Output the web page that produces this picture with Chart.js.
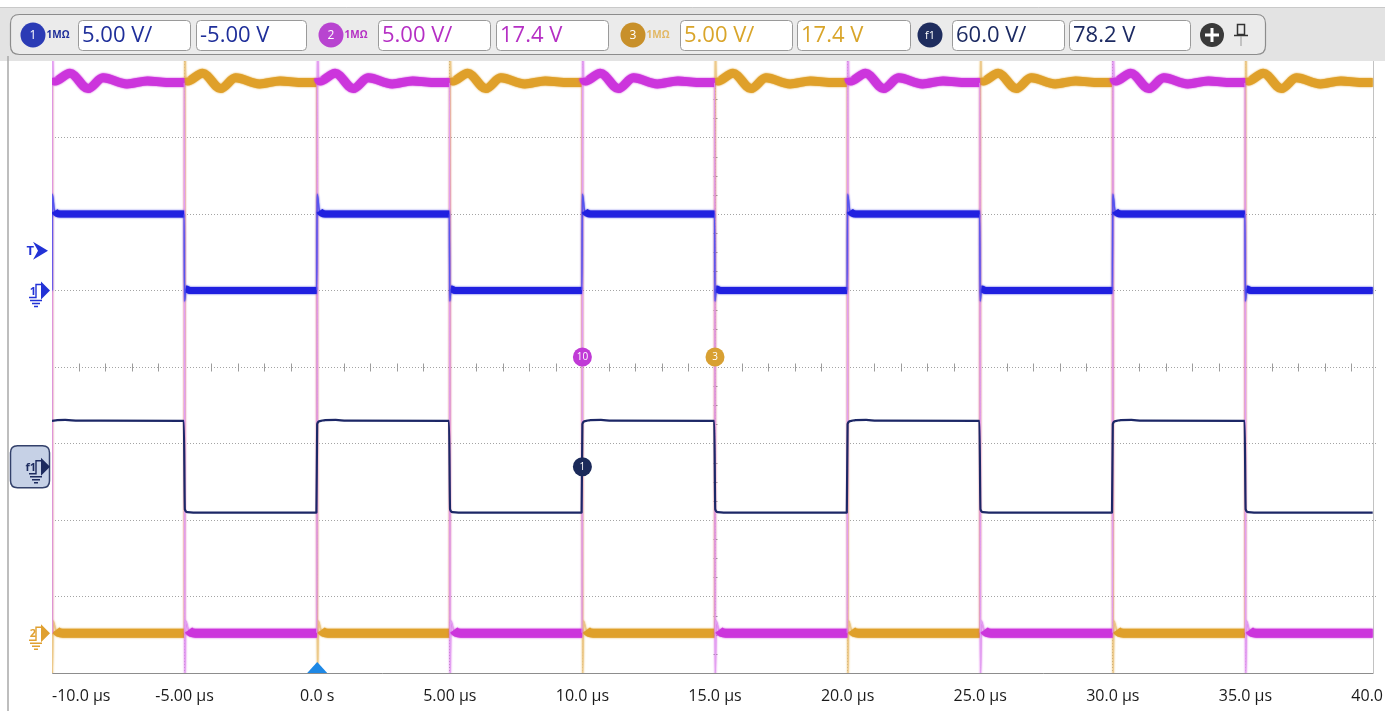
<!DOCTYPE html>
<html><head><meta charset="utf-8">
<script src="https://cdn.jsdelivr.net/npm/chart.js@4.4.0/dist/chart.umd.min.js"></script>
<style>html,body{margin:0;padding:0;background:#fff;overflow:hidden}</style>
</head><body><canvas id="c" width="1385" height="711"></canvas>
<script>
// ---------- data ----------
const timeTicks = [-10, -5, 0, 5, 10, 15, 20, 25, 30, 35, 40, 45];
const timeLabels = ["-10.0 µs", "-5.00 µs", "0.0 s", "5.00 µs", "10.0 µs", "15.0 µs", "20.0 µs", "25.0 µs", "30.0 µs", "35.0 µs", "40.0 µs", ""];
const channelNames = ["1", "2", "3", "f1"];
const voltsPerDiv = [5, 5, 5, 60];
const offsetVolts = [-5, 17.4, 17.4, 78.2];
const triggerLevel = 2.6; // V on channel 1

// [time µs, volts]
const ch1 = [[-10,0],[-9.99,6.3],[-9.9,5.2],[-9.7,5.0],[-5.02,5.0],[-5.0,-0.7],[-4.95,0.1],[-4.8,0],[-0.02,0],
 [0,6.3],[0.09,5.2],[0.3,5],[4.98,5],[5.0,-0.7],[5.05,0.1],[5.2,0],[9.98,0],
 [10,6.3],[10.09,5.2],[10.3,5],[14.98,5],[15,-0.7],[15.05,0.1],[15.2,0],[19.98,0],
 [20,6.3],[20.09,5.2],[20.3,5],[24.98,5],[25,-0.7],[25.05,0.1],[25.2,0],[29.98,0],
 [30,6.3],[30.09,5.2],[30.3,5],[34.98,5],[35,-0.7],[35.05,0.1],[35.2,0],[39.8,0]];

const ch2 = [[-10.0,0],[-9.99,38.5],[-9.96,36.3],[-9.89,36.1],[-9.32,36.6],[-8.64,35.6],[-8.08,36.3],[-7.17,35.9],[-6.4,36.1],[-5.7,36.0],[-5.03,36.0],
 [-5.01,36.0],[-4.99,-3.0],[-4.96,0.8],[-4.85,0.2],[-4.6,0.0],[-0.02,0.0],
 [-0.01,0],[0.01,38.5],[0.04,36.3],[0.11,36.1],[0.68,36.6],[1.36,35.6],[1.92,36.3],[2.83,35.9],[3.6,36.1],[4.3,36.0],[4.97,36.0],
 [4.99,36.0],[5.01,-3.0],[5.04,0.8],[5.15,0.2],[5.4,0.0],[9.98,0.0],
 [9.99,0],[10.01,38.5],[10.04,36.3],[10.11,36.1],[10.68,36.6],[11.36,35.6],[11.92,36.3],[12.83,35.9],[13.6,36.1],[14.3,36.0],[14.97,36.0],
 [14.99,36],[15.01,-3],[15.04,0.8],[15.15,0.2],[15.4,0],[19.98,0],
 [19.99,0],[20.01,38.5],[20.04,36.3],[20.11,36.1],[20.68,36.6],[21.36,35.6],[21.92,36.3],[22.83,35.9],[23.6,36.1],[24.3,36.0],[24.97,36.0],
 [24.99,36],[25.01,-3],[25.04,0.8],[25.15,0.2],[25.4,0],[29.98,0],
 [29.99,0],[30.01,38.5],[30.04,36.3],[30.11,36.1],[30.68,36.6],[31.36,35.6],[31.92,36.3],[32.83,35.9],[33.6,36.1],[34.3,36.0],[34.97,36.0],
 [34.99,36],[35.01,-3],[35.04,0.8],[35.15,0.2],[35.4,0],[39.8,0]];

const ch3 = [[-10.0,36.0],[-9.99,-3],[-9.96,0.8],[-9.85,0.2],[-9.6,0],[-5.02,0],
 [-5.01,0],[-4.99,38.5],[-4.96,36.3],[-4.89,36.1],[-4.32,36.6],[-3.64,35.6],[-3.08,36.3],[-2.17,35.9],[-1.4,36.1],[-0.7,36.0],[-0.03,36.0],
 [-0.01,36],[0.01,-3],[0.04,0.8],[0.15,0.2],[0.4,0],[4.98,0],
 [4.99,0],[5.01,38.5],[5.04,36.3],[5.11,36.1],[5.68,36.6],[6.36,35.6],[6.92,36.3],[7.83,35.9],[8.6,36.1],[9.3,36],[9.97,36],
 [9.99,36],[10.01,-3],[10.04,0.8],[10.15,0.2],[10.4,0],[14.98,0],
 [14.99,0],[15.01,38.5],[15.04,36.3],[15.11,36.1],[15.68,36.6],[16.36,35.6],[16.92,36.3],[17.83,35.9],[18.6,36.1],[19.3,36],[19.97,36],
 [19.99,36],[20.01,-3],[20.04,0.8],[20.15,0.2],[20.4,0],[24.98,0],
 [24.99,0],[25.01,38.5],[25.04,36.3],[25.11,36.1],[25.68,36.6],[26.36,35.6],[26.92,36.3],[27.83,35.9],[28.6,36.1],[29.3,36],[29.97,36],
 [29.99,36],[30.01,-3],[30.04,0.8],[30.15,0.2],[30.4,0],[34.98,0],
 [34.99,0],[35.01,38.5],[35.04,36.3],[35.11,36.1],[35.68,36.6],[36.36,35.6],[36.92,36.3],[37.83,35.9],[38.6,36.1],[39.3,36],[39.8,36]];

const f1 = [[-10,36],[-9.8,36.5],[-9.5,36.7],[-9.0,36.1],[-5.03,36],[-4.99,-33.5],[-4.9,-35.6],[-4.6,-36],[-0.03,-36],
 [0.0,33.5],[0.1,35.8],[0.3,36.6],[0.7,36.7],[1.1,36.1],[4.97,36],[5.01,-33.5],[5.1,-35.6],[5.4,-36],[9.97,-36],
 [10,33.5],[10.1,35.8],[10.3,36.6],[10.7,36.7],[11.1,36.1],[14.97,36],[15.01,-33.5],[15.1,-35.6],[15.4,-36],[19.97,-36],
 [20,33.5],[20.1,35.8],[20.3,36.6],[20.7,36.7],[21.1,36.1],[24.97,36],[25.01,-33.5],[25.1,-35.6],[25.4,-36],[29.97,-36],
 [30,33.5],[30.1,35.8],[30.3,36.6],[30.7,36.7],[31.1,36.1],[34.97,36],[35.01,-33.5],[35.1,-35.6],[35.4,-36],[39.8,-36]];

// ---------- styling ----------
const bandColors = ['#2020e0', '#cc35dc', '#dfa02a', '#1c2766'];
const edgeColors = ['#5555f0', '#e2a0f2', '#ecc98a', '#1c2766'];
const textColors = ['#1f2f9a', '#b52fc4', '#d9a52a', '#1c2a62'];
const badgeColors = ['#2b3bb5', '#b844d0', '#c8902a', '#1f2d5e'];
const DIVS = 4;

Chart.defaults.font.family = "'Open Sans', 'DejaVu Sans', sans-serif";

function steep(c) {
  const dx = Math.abs(c.p1.x - c.p0.x), dy = Math.abs(c.p1.y - c.p0.y);
  return dy > 8 && dy > 3 * dx;
}
function trace(points, axis, idx, band, edge, fuzzy) {
  return {
    data: points.map(p => ({x: p[0], y: p[1]})),
    yAxisID: axis, borderColor: bandColors[idx], borderWidth: band,
    pointRadius: 0, clip: 0, borderJoinStyle: 'round', borderCapStyle: 'butt',
    cubicInterpolationMode: 'monotone',
    fuzzy: fuzzy,
    segment: {
      borderWidth: c => steep(c) ? edge : band,
      borderColor: c => steep(c) ? edgeColors[idx] : bandColors[idx]
    }
  };
}
function chAxis(i) {
  return {type: 'linear', display: false,
    min: offsetVolts[i] - DIVS * voltsPerDiv[i], max: offsetVolts[i] + DIVS * voltsPerDiv[i]};
}
function rr(ctx, x, y, w, h, r) {
  ctx.beginPath();
  ctx.moveTo(x + r, y); ctx.lineTo(x + w - r, y); ctx.quadraticCurveTo(x + w, y, x + w, y + r);
  ctx.lineTo(x + w, y + h - r); ctx.quadraticCurveTo(x + w, y + h, x + w - r, y + h);
  ctx.lineTo(x + r, y + h); ctx.quadraticCurveTo(x, y + h, x, y + h - r);
  ctx.lineTo(x, y + r); ctx.quadraticCurveTo(x, y, x + r, y); ctx.closePath();
}
function badge(ctx, x, y, r, fill, label, fs) {
  ctx.beginPath(); ctx.arc(x, y, r, 0, Math.PI * 2); ctx.fillStyle = fill; ctx.fill();
  ctx.fillStyle = '#fff'; ctx.font = `${fs}px 'Open Sans', sans-serif`;
  ctx.textAlign = 'center'; ctx.textBaseline = 'middle'; ctx.fillText(label, x, y + 0.5);
}
function groundMarker(ctx, x, y, color, label) {
  ctx.fillStyle = color;
  ctx.beginPath(); ctx.moveTo(x - 8, y - 9); ctx.lineTo(x + 1, y); ctx.lineTo(x - 8, y + 9); ctx.closePath(); ctx.fill();
  ctx.strokeStyle = color; ctx.lineWidth = 1.4;
  ctx.beginPath(); ctx.moveTo(x - 20, y + 7); ctx.lineTo(x - 13, y + 7); ctx.lineTo(x - 13, y - 6); ctx.lineTo(x - 8, y - 6); ctx.stroke();
  ctx.beginPath();
  ctx.moveTo(x - 19, y + 10); ctx.lineTo(x - 7, y + 10);
  ctx.moveTo(x - 17, y + 13); ctx.lineTo(x - 9, y + 13);
  ctx.moveTo(x - 15, y + 16); ctx.lineTo(x - 11, y + 16);
  ctx.stroke();
  ctx.font = "bold 11px 'Open Sans', sans-serif"; ctx.textAlign = 'right'; ctx.textBaseline = 'middle';
  ctx.fillText(label, x - 13, y + 1);
}

const decor = {
  id: 'decor',
  beforeDraw(chart) {
    const ctx = chart.ctx, a = chart.chartArea, W = chart.width;
    ctx.save();
    ctx.fillStyle = '#fff'; ctx.fillRect(0, 0, W, chart.height);
    ctx.fillStyle = '#e3e3e3'; ctx.fillRect(0, 7, W, a.top - 7);
    ctx.strokeStyle = '#c9c9c9'; ctx.lineWidth = 1;
    ctx.beginPath(); ctx.moveTo(0, 7.5); ctx.lineTo(W, 7.5); ctx.stroke();
    rr(ctx, 10.5, 14.5, 1255, 40, 9); ctx.fillStyle = '#ebebeb'; ctx.fill();
    ctx.strokeStyle = '#8c8c8c'; ctx.lineWidth = 1.2; ctx.stroke();
    const badgeX = [33, 331, 633, 930];
    const box1X = [78, 378, 680, 952];
    const box2X = [196, 496, 797, 1069];
    const box2W = [110, 112, 113, 121];
    for (let i = 0; i < 4; i++) {
      badge(ctx, badgeX[i], 35, 12.5, badgeColors[i], channelNames[i], i === 3 ? 11 : 12);
      if (i < 3) {
        ctx.fillStyle = i === 2 ? '#e2b865' : textColors[i];
        ctx.font = "bold 10px 'Open Sans', sans-serif"; ctx.textAlign = 'left'; ctx.textBaseline = 'middle';
        ctx.fillText('1MΩ', badgeX[i] + 13.5, 35);
      }
      const t1 = voltsPerDiv[i].toPrecision(3) + ' V/';
      const t2 = offsetVolts[i].toPrecision(3) + ' V';
      [[box1X[i], 112, t1], [box2X[i], box2W[i], t2]].forEach(([bx, bw, txt]) => {
        rr(ctx, bx + 0.5, 20.5, bw, 30, 4); ctx.fillStyle = '#fff'; ctx.fill();
        ctx.strokeStyle = '#9a9a9a'; ctx.lineWidth = 1; ctx.stroke();
        ctx.fillStyle = textColors[i]; ctx.font = "22px 'Open Sans', sans-serif";
        ctx.textAlign = 'left'; ctx.textBaseline = 'middle'; ctx.fillText(txt, bx + 4, 36);
      });
    }
    ctx.beginPath(); ctx.arc(1212, 35, 12, 0, Math.PI * 2); ctx.fillStyle = '#3a3a3a'; ctx.fill();
    ctx.strokeStyle = '#fff'; ctx.lineWidth = 3;
    ctx.beginPath(); ctx.moveTo(1205, 35); ctx.lineTo(1219, 35); ctx.moveTo(1212, 28); ctx.lineTo(1212, 42); ctx.stroke();
    ctx.strokeStyle = '#333'; ctx.lineWidth = 1.5;
    ctx.strokeRect(1237.5, 24.5, 7, 10);
    ctx.beginPath(); ctx.moveTo(1234, 35.5); ctx.lineTo(1248, 35.5); ctx.stroke();
    ctx.strokeStyle = '#999'; ctx.lineWidth = 1;
    ctx.beginPath(); ctx.moveTo(1241, 36); ctx.lineTo(1241, 46); ctx.stroke();
    ctx.strokeStyle = '#a8a8a8'; ctx.lineWidth = 1.5;
    ctx.beginPath(); ctx.moveTo(8, 56); ctx.lineTo(8, chart.height); ctx.stroke();
    ctx.restore();
  },
  beforeDatasetsDraw(chart) {
    const ctx = chart.ctx, a = chart.chartArea, xs = chart.scales.x, ds = chart.scales.div;
    ctx.save();
    const cy = Math.round(ds.getPixelForValue(0)) + 0.5;
    const cx = Math.round(xs.getPixelForValue(15)) + 0.5;
    ctx.strokeStyle = '#9c9c9c'; ctx.lineWidth = 1;
    ctx.beginPath();
    for (let t = -9; t < 40; t++) {
      if (t % 5 === 0) continue;
      const x = Math.round(xs.getPixelForValue(t)) + 0.5;
      ctx.moveTo(x, cy - 4); ctx.lineTo(x, cy + 4);
    }
    for (let d = -3.75; d < 4; d += 0.25) {
      if (Math.abs(d - Math.round(d)) < 1e-6) continue;
      const y = Math.round(ds.getPixelForValue(d)) + 0.5;
      ctx.moveTo(cx - 2, y); ctx.lineTo(cx + 2, y);
    }
    ctx.stroke();
    const xr = Math.round(xs.getPixelForValue(39.8)) + 0.5;
    ctx.strokeStyle = '#8d8d8d'; ctx.lineWidth = 1;
    ctx.beginPath();
    ctx.moveTo(a.left + 0.5, a.top); ctx.lineTo(a.left + 0.5, a.bottom + 0.5); ctx.lineTo(xr, a.bottom + 0.5);
    ctx.stroke();
    ctx.strokeStyle = '#c2c2c2';
    ctx.beginPath(); ctx.moveTo(xr, a.top); ctx.lineTo(xr, a.bottom); ctx.stroke();
    ctx.restore();
  },
  beforeDatasetDraw(chart, args) {
    const ds = chart.data.datasets[args.index];
    chart.ctx.save();
    if (ds.fuzzy) {
      chart.ctx.shadowColor = ds.borderColor;
      chart.ctx.shadowBlur = 2;
    }
  },
  afterDatasetDraw(chart) {
    chart.ctx.restore();
  },
  afterDraw(chart) {
    const ctx = chart.ctx, a = chart.chartArea, xs = chart.scales.x, ds = chart.scales.div;
    const y1 = chart.scales.y1, y2 = chart.scales.y2, yf = chart.scales.yf;
    ctx.save();
    const ty = y1.getPixelForValue(triggerLevel);
    ctx.fillStyle = '#2232d6';
    ctx.font = "bold 13px 'Open Sans', sans-serif"; ctx.textAlign = 'right'; ctx.textBaseline = 'middle';
    ctx.fillText('T', 34, ty + 1);
    ctx.beginPath(); ctx.moveTo(33, ty - 9); ctx.lineTo(48, ty); ctx.lineTo(33, ty + 9); ctx.lineTo(38, ty); ctx.closePath(); ctx.fill();
    groundMarker(ctx, 49, y1.getPixelForValue(0), '#2232d6', '1');
    groundMarker(ctx, 49, y2.getPixelForValue(0), '#e0a030', '2');
    const fy = yf.getPixelForValue(0);
    rr(ctx, 10.5, fy - 21, 39, 42, 7); ctx.fillStyle = '#c6d1e6'; ctx.fill();
    ctx.strokeStyle = '#33416b'; ctx.lineWidth = 1.5; ctx.stroke();
    groundMarker(ctx, 49, fy, '#1c2a5e', 'f1');
    const tx = xs.getPixelForValue(0);
    ctx.fillStyle = '#1e88e5';
    ctx.beginPath(); ctx.moveTo(tx - 10, a.bottom); ctx.lineTo(tx + 10, a.bottom); ctx.lineTo(tx, a.bottom - 11); ctx.closePath(); ctx.fill();
    const cyy = ds.getPixelForValue(0) - 10;
    badge(ctx, xs.getPixelForValue(10), cyy, 9.5, '#c03ad6', '10', 10);
    badge(ctx, xs.getPixelForValue(15), cyy, 9.5, '#d8a032', '3', 10);
    badge(ctx, xs.getPixelForValue(10), fy, 9.5, '#1b2a5a', '1', 10);
    ctx.restore();
  }
};

new Chart(document.getElementById('c'), {
  type: 'line',
  data: {
    datasets: [
      trace(f1, 'yf', 3, 2.2, 2.2, false),
      trace(ch1, 'y1', 0, 7, 1.2, true),
      trace(ch2, 'y2', 1, 9, 1.2, true),
      trace(ch3, 'y3', 2, 9, 1.2, true)
    ]
  },
  options: {
    responsive: false, animation: false, devicePixelRatio: 1,
    layout: {padding: {left: 52, right: 7, top: 61, bottom: 0}},
    plugins: {legend: {display: false}, tooltip: {enabled: false}},
    scales: {
      x: {
        type: 'linear', min: -10, max: 40,
        afterBuildTicks: s => { s.ticks = timeTicks.map(v => ({value: v})); },
        afterFit: s => { s.height = 38; s.paddingLeft = 0; s.paddingRight = 0; },
        ticks: {autoSkip: false, maxRotation: 0, minRotation: 0, align: 'inner', padding: 14,
          font: {size: 16}, color: '#1a1a1a', callback: (v, i) => timeLabels[i]},
        grid: {drawTicks: false, lineWidth: 1,
          color: c => (c.tick && (c.tick.value <= -10 || c.tick.value >= 40)) ? 'rgba(0,0,0,0)' : '#a4a4a4'},
        border: {display: false, dash: [1, 2]}
      },
      div: {
        type: 'linear', position: 'left', min: -DIVS, max: DIVS,
        ticks: {display: false, stepSize: 1},
        grid: {drawTicks: false, lineWidth: 1,
          color: c => (c.tick && Math.abs(c.tick.value) >= DIVS) ? 'rgba(0,0,0,0)' : '#a4a4a4'},
        border: {display: false, dash: [1, 2]}
      },
      y1: chAxis(0), y2: chAxis(1), y3: chAxis(2), yf: chAxis(3)
    }
  },
  plugins: [decor]
});
</script>
</body></html>
